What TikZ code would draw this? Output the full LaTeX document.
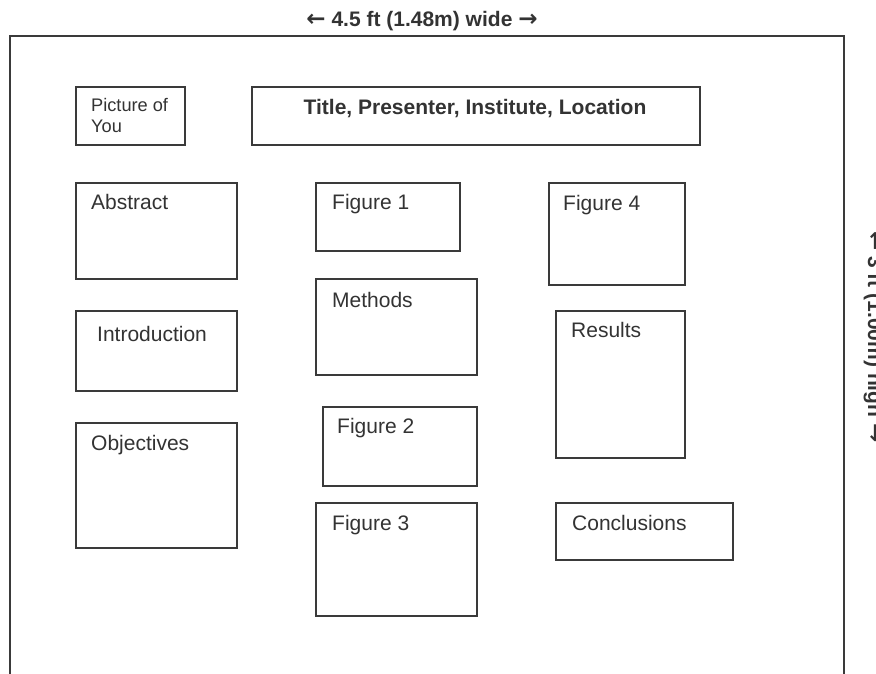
\documentclass[tikz,border=0pt]{standalone}
\usepackage{fontspec}
\setmainfont{Liberation Sans}
\newfontfamily\arrowfont{DejaVu Sans}
\definecolor{ink}{HTML}{3A3A3A}
\definecolor{txt}{HTML}{333333}
\newcommand{\larr}{{\arrowfont\fontsize{23}{25}\selectfont ←}}
\newcommand{\rarr}{{\arrowfont\fontsize{23}{25}\selectfont →}}
\begin{document}
\begin{tikzpicture}[x=1pt,y=-1pt,
  box/.style={draw=ink, line width=1.6pt, rectangle, inner sep=0pt, anchor=north west},
  lbl/.style={text=txt, inner sep=0pt, anchor=base west, font=\fontsize{21}{25}\selectfont},
  small/.style={text=txt, inner sep=0pt, anchor=base west, align=left, font=\fontsize{18.2}{21}\selectfont},
  head/.style={text=txt, inner sep=0pt, anchor=base, font=\bfseries\fontsize{21}{25}\selectfont},
  frame/.style={draw=ink, line width=1.6pt}]
\clip (0,0) rectangle (876,674);
\fill[white] (0,0) rectangle (876,674);
% outer frame (open at the bottom)
\draw[frame] (10,674) -- (10,36) -- (844,36) -- (844,674);
% dimension labels
\node[head] (wide) at (422,27) {\larr\ 4.5 ft (1.48m) wide \rarr};
\node[head, rotate=-90] (high) at (868,337) {\larr\ 3 ft (1.00m) high \rarr};
% boxes
\node[box, minimum width=109pt, minimum height=58pt] (pic) at (75,86) {};
\node[box, minimum width=448pt, minimum height=58pt] (title) at (251,86) {};
\node[box, minimum width=161pt, minimum height=96pt] (abs) at (75,182) {};
\node[box, minimum width=144pt, minimum height=68pt] (fig1) at (315,182) {};
\node[box, minimum width=136pt, minimum height=102pt] (fig4) at (548,182) {};
\node[box, minimum width=161pt, minimum height=96pt] (meth) at (315,278) {};
\node[box, minimum width=161pt, minimum height=80pt] (intro) at (75,310) {};
\node[box, minimum width=129pt, minimum height=147pt] (res) at (555,310) {};
\node[box, minimum width=161pt, minimum height=125pt] (obj) at (75,422) {};
\node[box, minimum width=154pt, minimum height=79pt] (fig2) at (322,406) {};
\node[box, minimum width=161pt, minimum height=113pt] (fig3) at (315,502) {};
\node[box, minimum width=177pt, minimum height=57pt] (concl) at (555,502) {};
% texts
\node[small] (picT1) at (91,112) {Picture of};
\node[small] (picT2) at (91,133) {You};
\node[head] (titleT) at (475,115) {Title, Presenter, Institute, Location};
\node[lbl] (absT) at (91,210) {Abstract};
\node[lbl] (fig1T) at (332,210) {Figure 1};
\node[lbl] (fig4T) at (563,211) {Figure 4};
\node[lbl] (methT) at (332,307) {Methods};
\node[lbl] (introT) at (97,341) {Introduction};
\node[lbl] (resT) at (571,337) {Results};
\node[lbl] (objT) at (91,450) {Objectives};
\node[lbl] (fig2T) at (337,433) {Figure 2};
\node[lbl] (fig3T) at (332,530) {Figure 3};
\node[lbl] (conclT) at (572,530) {Conclusions};
\end{tikzpicture}
\end{document}
